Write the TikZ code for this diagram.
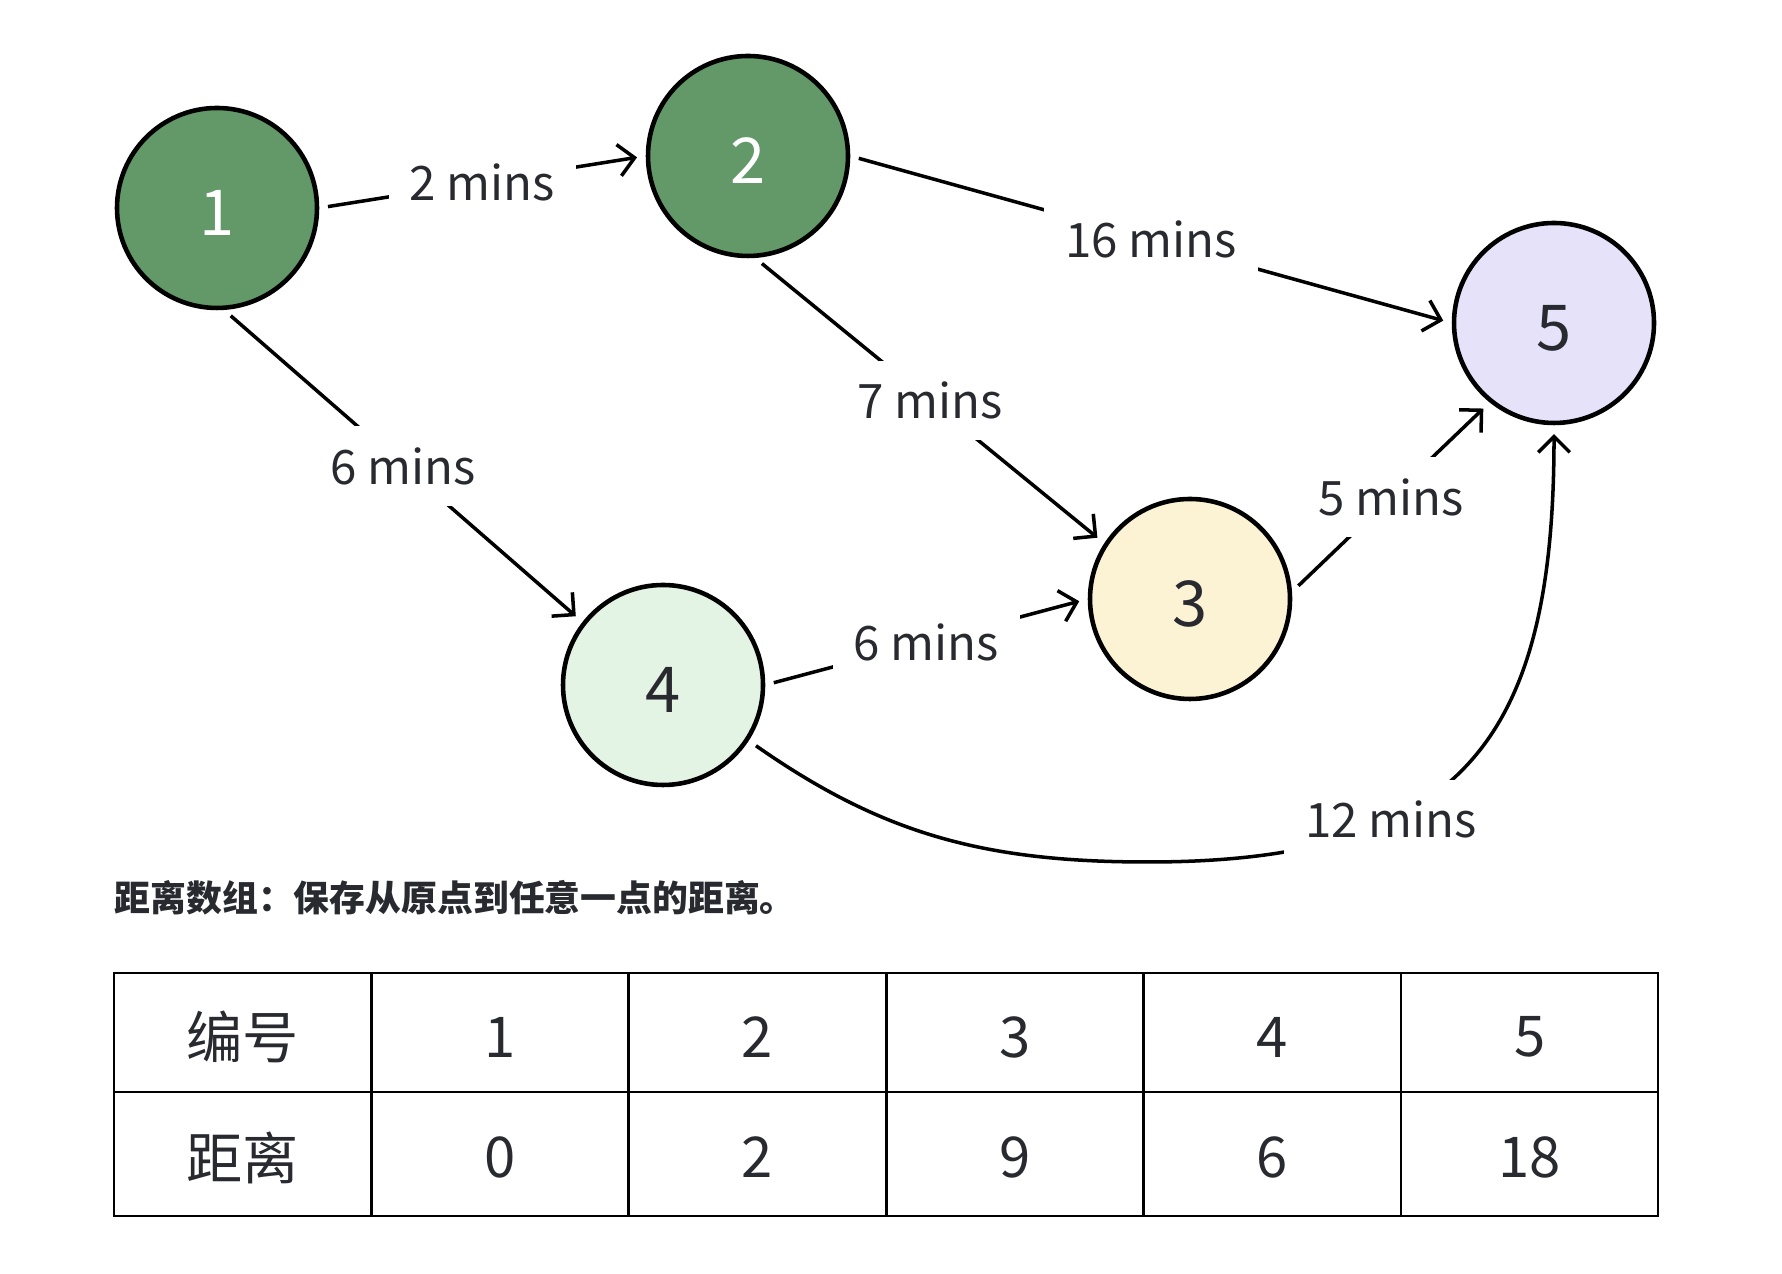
\documentclass[tikz,border=0pt]{standalone}
\usepackage{fontspec}
\setmainfont{Noto Sans CJK SC}
\usetikzlibrary{arrows.meta}
\definecolor{verde}{RGB}{99,152,104}
\definecolor{verdeclaro}{RGB}{227,243,228}
\definecolor{amarelo}{RGB}{252,242,212}
\definecolor{lilas}{RGB}{230,226,250}
\definecolor{texto}{RGB}{40,42,48}

\begin{document}
\begin{tikzpicture}[
    vertice/.style={circle, draw=black, line width=1.3pt, minimum size=2cm,
      inner sep=0pt, text height=15.8pt, text depth=0pt,
      font=\fontsize{18}{18}\selectfont, text=texto},
    aresta/.style={line width=1pt, -{Straight Barb[length=4.5pt,width=9pt]},
      shorten <=2.5pt, shorten >=2.5pt},
    rotulo/.style={fill=white, inner sep=6pt, font=\fontsize{13.5}{13.5}\selectfont, text=texto},
    celula/.style={font=\fontsize{16}{16}\selectfont, text=texto}
  ]
  \useasboundingbox (0,0) rectangle (17.82,12.74);

  % Vertices
  \node[vertice, fill=verde, text=white] (v1) at ( 2.17,10.66) {1};
  \node[vertice, fill=verde, text=white] (v2) at ( 7.48,11.18) {2};
  \node[vertice, fill=amarelo]           (v3) at (11.90, 6.75) {3};
  \node[vertice, fill=verdeclaro]        (v4) at ( 6.63, 5.89) {4};
  \node[vertice, fill=lilas]             (v5) at (15.54, 9.51) {5};
  \coordinate (fundo) at (11.48,4.12);

  % Arestas
  \draw[aresta] (v1.east) -- node[rotulo] {2 mins} (v2.west);
  \draw[aresta] (v2.east) -- node[rotulo] {16 mins} (v5.west);
  \draw[aresta] (v1.-86) -- node[rotulo] {6 mins} (v4.142);
  \draw[aresta] (v2.-86) -- node[rotulo] {7 mins} (v3.147);
  \draw[aresta] (v4.east) -- node[rotulo] {6 mins} (v3.west);
  \draw[aresta] (v3.4) -- node[rotulo] {5 mins} (v5.-129);
  \draw[aresta] (v4.-33) to[out=-35, in=180] (fundo)
    to[out=0, in=-90, looseness=1.35] node[rotulo, pos=0.33] {12 mins} (v5.south);

  % Legenda
  \node[anchor=west, inner sep=0pt, text=texto,
    font=\bfseries\fontsize{10.2}{10.2}\selectfont] (legenda) at (1.14,3.76)
    {距离数组：保存从原点到任意一点的距离。};

  % Tabela
  \draw[line width=0.8pt] (1.14,0.58) rectangle (16.58,3.01);
  \draw[line width=0.8pt] (1.14,1.82) -- (16.58,1.82);
  \foreach \i in {1,...,5}
    \draw[line width=0.8pt] (1.14+2.574*\i,0.58) -- (1.14+2.574*\i,3.01);
  \foreach \id/\dist [count=\i from 0] in {编号/距离,1/0,2/2,3/9,4/6,5/18}{
    \node[celula] (id\i)   at (2.427+2.574*\i,2.37)  {\id};
    \node[celula] (dist\i) at (2.427+2.574*\i,1.165) {\dist};
  }

\end{tikzpicture}
\end{document}
